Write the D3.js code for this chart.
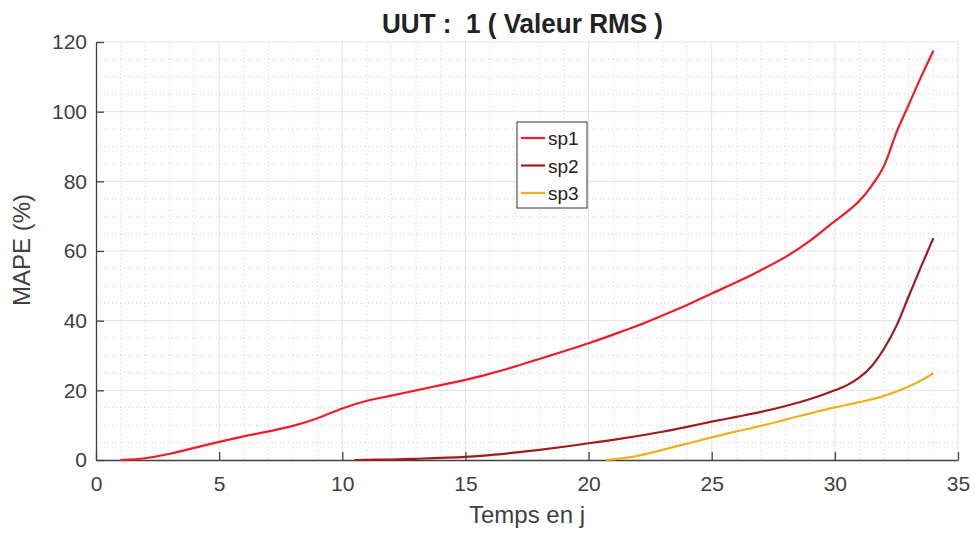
<!DOCTYPE html>
<html lang="fr">
<head>
<meta charset="UTF-8">
<title>UUT 1</title>
<script src="https://cdn.jsdelivr.net/npm/d3@7"></script>
<style>
  body { margin: 0; background: #fff; }
  svg { font-family: "Liberation Sans", Arial, sans-serif; }
</style>
</head>
<body>
<svg width="975" height="533"></svg>
<script>
// données
var sp1Days = [1,2,3,4,5,6,7,8,9,10,11,12,13,14,15,16,17,18,19,20,21,22,23,24,25,26,27,28,29,30,30.5,31,31.5,32,32.5,33,33.5,34];
var sp1 = [0,0.5,1.8,3.5,5.2,6.8,8.2,9.8,12,14.8,17,18.5,20,21.5,23,24.8,26.8,29,31.2,33.5,36,38.6,41.5,44.5,47.8,51,54.5,58.3,63,68.6,71.3,74.4,78.8,84.5,94,102,110,117.5];

var sp2Days = [10.5,11,12,13,14,15,16,17,18,19,20,21,22,23,24,25,26,27,28,29,30,30.5,31,31.5,32,32.5,33,33.5,34];
var sp2 = [0,0.05,0.15,0.35,0.6,0.9,1.4,2.1,2.9,3.8,4.8,5.8,6.9,8.1,9.5,11,12.4,13.8,15.5,17.5,20,21.5,23.7,27,32,38.5,47,55.5,63.7];

var sp3Days = [20.7,21,22,23,24,25,26,27,28,29,30,31,32,33,33.5,34];
var sp3 = [0,0.2,1.2,2.9,4.7,6.5,8.2,9.8,11.6,13.4,15.1,16.6,18.4,21.1,22.8,24.9];

var seriesNames = ['sp1', 'sp2', 'sp3'];
var seriesColors = ['#f01c26', '#a3191f', '#edb120'];
var xTicks = [0,5,10,15,20,25,30,35];
var yTicks = [0,20,40,60,80,100,120];

var svg = d3.select('svg');
var plotLeft = 96, plotRight = 958, plotTop = 42, plotBottom = 460;
var axisColor = '#404040';

var x = d3.scaleLinear().domain([0, 35]).range([plotLeft, plotRight]);
var y = d3.scaleLinear().domain([0, 120]).range([plotBottom, plotTop]);

// grille mineure (pointillés)
var grid = svg.append('g');
grid.selectAll('.mx').data(d3.range(1, 35).filter(function (d) { return d % 5 !== 0; }))
  .enter().append('line')
  .attr('x1', function (d) { return x(d); }).attr('x2', function (d) { return x(d); })
  .attr('y1', plotTop).attr('y2', plotBottom)
  .attr('stroke', '#cfcfcf').attr('stroke-width', 1).attr('stroke-dasharray', '1,3');
grid.selectAll('.my').data(d3.range(5, 120, 5).filter(function (d) { return d % 20 !== 0; }))
  .enter().append('line')
  .attr('y1', function (d) { return y(d); }).attr('y2', function (d) { return y(d); })
  .attr('x1', plotLeft).attr('x2', plotRight)
  .attr('stroke', '#cfcfcf').attr('stroke-width', 1).attr('stroke-dasharray', '1,3');
// grille majeure
grid.selectAll('.gx').data(xTicks.slice(1))
  .enter().append('line')
  .attr('x1', function (d) { return x(d); }).attr('x2', function (d) { return x(d); })
  .attr('y1', plotTop).attr('y2', plotBottom)
  .attr('stroke', '#e3e3e3').attr('stroke-width', 1);
grid.selectAll('.gy').data(yTicks.slice(1))
  .enter().append('line')
  .attr('y1', function (d) { return y(d); }).attr('y2', function (d) { return y(d); })
  .attr('x1', plotLeft).attr('x2', plotRight)
  .attr('stroke', '#e3e3e3').attr('stroke-width', 1);

// axes
var axisX = d3.axisBottom(x).tickValues(xTicks).tickSizeInner(-8).tickSizeOuter(0).tickPadding(16);
var axisY = d3.axisLeft(y).tickValues(yTicks).tickSizeInner(-8).tickSizeOuter(0).tickPadding(9);

var gx = svg.append('g').attr('transform', 'translate(0,' + plotBottom + ')').call(axisX);
var gy = svg.append('g').attr('transform', 'translate(' + plotLeft + ',0)').call(axisY);
[gx, gy].forEach(function (g) {
  g.select('.domain').attr('stroke', axisColor).attr('stroke-width', 1.3);
  g.selectAll('.tick line').attr('stroke', axisColor).attr('stroke-width', 1.3);
  g.selectAll('.tick text').attr('fill', axisColor).attr('font-size', 21)
    .attr('font-family', '"Liberation Sans", Arial, sans-serif');
});

// courbes
var line = d3.line()
  .x(function (d) { return x(d[0]); })
  .y(function (d) { return y(d[1]); })
  .curve(d3.curveMonotoneX);

var allSeries = [d3.zip(sp1Days, sp1), d3.zip(sp2Days, sp2), d3.zip(sp3Days, sp3)];
svg.selectAll('.serie').data(allSeries).enter().append('path')
  .attr('d', line)
  .attr('fill', 'none')
  .attr('stroke', function (d, i) { return seriesColors[i]; })
  .attr('stroke-width', 2.2)
  .attr('stroke-linejoin', 'round');

// titres
svg.append('text').attr('x', 382).attr('y', 33)
  .attr('font-weight', 'bold').attr('font-size', 27).attr('fill', '#222')
  .attr('textLength', 281).attr('lengthAdjust', 'spacingAndGlyphs')
  .style('white-space', 'pre')
  .text('UUT :  1 ( Valeur RMS )');
svg.append('text').attr('x', 527).attr('y', 523).attr('text-anchor', 'middle')
  .attr('font-size', 24).attr('fill', axisColor).text('Temps en j');
svg.append('text').attr('transform', 'translate(30,250) rotate(-90)').attr('text-anchor', 'middle')
  .attr('font-size', 24).attr('fill', axisColor).text('MAPE (%)');

// légende
var leg = svg.append('g').attr('transform', 'translate(517,122)');
leg.append('rect').attr('width', 70).attr('height', 86)
  .attr('fill', '#fff').attr('stroke', '#333').attr('stroke-width', 1);
var items = leg.selectAll('.item').data(seriesNames).enter().append('g')
  .attr('transform', function (d, i) { return 'translate(0,' + (16 + i * 27.5) + ')'; });
items.append('line').attr('x1', 4).attr('x2', 28).attr('y1', 0).attr('y2', 0)
  .attr('stroke', function (d, i) { return seriesColors[i]; }).attr('stroke-width', 2.2);
items.append('text').attr('x', 31).attr('y', 7).attr('font-size', 19).attr('fill', '#222')
  .text(function (d) { return d; });
</script>
</body>
</html>
